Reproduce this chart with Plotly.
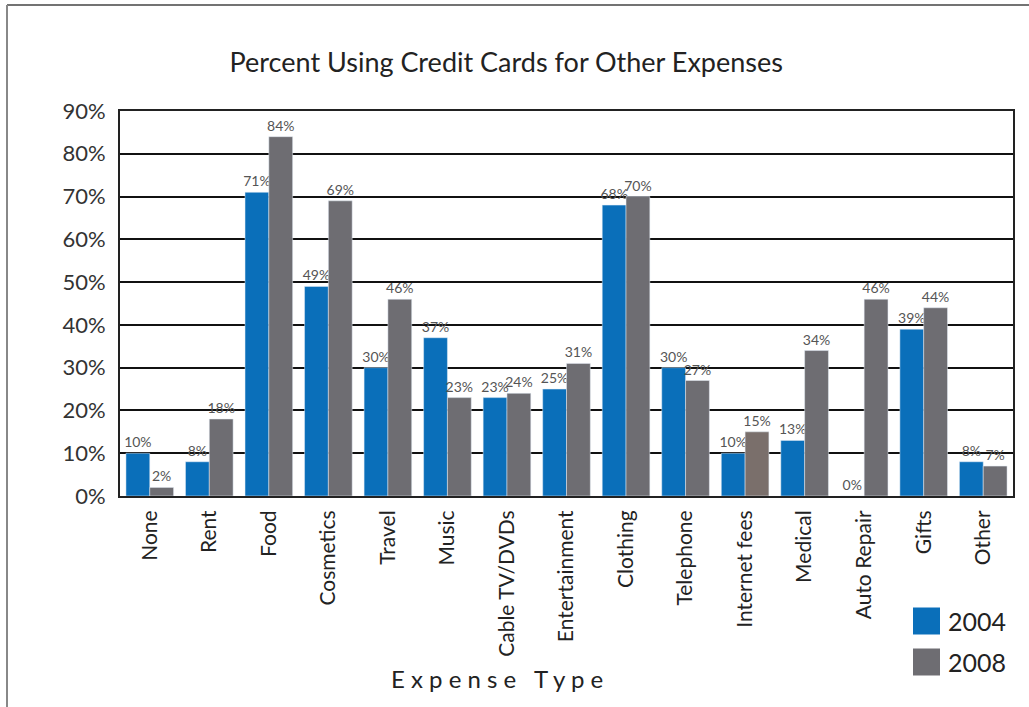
import plotly.graph_objects as go

categories = ["None", "Rent", "Food", "Cosmetics", "Travel", "Music", "Cable TV/DVDs",
              "Entertainment", "Clothing", "Telephone", "Internet fees", "Medical",
              "Auto Repair", "Gifts", "Other"]
values_2004 = [10, 8, 71, 49, 30, 37, 23, 25, 68, 30, 10, 13, 0, 39, 8]
values_2008 = [2, 18, 84, 69, 46, 23, 24, 31, 70, 27, 15, 34, 46, 44, 7]
series_names = ["2004", "2008"]
y_ticks = [0, 10, 20, 30, 40, 50, 60, 70, 80, 90]

BLUE = "#0a6fba"
GRAY = "#6e6d72"
colors_2008 = [GRAY] * len(categories)
colors_2008[categories.index("Internet fees")] = "#7a6f6b"

FONT = "Lato"

fig = go.Figure()
fig.add_trace(go.Bar(
    x=categories, y=values_2004, name=series_names[0], marker_color=BLUE,
    text=[f"{v}%" for v in values_2004], textposition="outside", constraintext="none",
    textfont=dict(size=14, color="#555555", family=FONT), cliponaxis=False,
    showlegend=False))
fig.add_trace(go.Bar(
    x=categories, y=values_2008, name=series_names[1], marker_color=colors_2008,
    text=[f"{v}%" for v in values_2008], textposition="outside", constraintext="none",
    textfont=dict(size=14, color="#555555", family=FONT), cliponaxis=False,
    showlegend=False))

fig.update_layout(
    width=1029, height=707,
    margin=dict(l=120, r=16, t=111, b=211),
    paper_bgcolor="white", plot_bgcolor="white",
    barmode="group", bargap=0.2, bargroupgap=0,
    font=dict(family=FONT, color="#222222"),
    title=dict(text="Percent Using Credit Cards for Other Expenses",
               x=0.492, xanchor="center", y=0.912, yanchor="middle",
               font=dict(size=27, color="#222222", family=FONT)),
)
fig.update_yaxes(range=[0, 90], tickvals=y_ticks, ticktext=[f"{t}%" for t in y_ticks],
                 showgrid=True, gridcolor="#111111", gridwidth=2,
                 showline=True, linecolor="#222222", linewidth=2, mirror=True,
                 ticks="", ticklabelstandoff=8,
                 tickfont=dict(size=22, color="#333333", family=FONT),
                 zeroline=False, fixedrange=True)
fig.update_xaxes(tickangle=-90, tickfont=dict(size=21, color="#222222", family=FONT),
                 showline=True, linecolor="#222222", linewidth=2, mirror=True,
                 ticks="", ticklabelstandoff=4, fixedrange=True)

# Axis title with letter spacing
fig.add_annotation(text="E x p e n s e   T y p e", xref="paper", yref="paper",
                   x=(497 - 120) / 893, y=-(678 - 496) / 385, xanchor="center", yanchor="middle",
                   showarrow=False, font=dict(size=24, color="#222222", family=FONT))

# Legend (manual squares + text)
legend_items = [(series_names[0], BLUE, 621), (series_names[1], GRAY, 662)]
for name, col, yc in legend_items:
    x0p, x1p = (913 - 120) / 893, (940 - 120) / 893
    y0p, y1p = -(yc + 13.5 - 496) / 385, -(yc - 13.5 - 496) / 385
    fig.add_shape(type="rect", xref="paper", yref="paper", x0=x0p, x1=x1p, y0=y0p, y1=y1p,
                  fillcolor=col, line=dict(width=0))
    fig.add_annotation(text=name, xref="paper", yref="paper",
                       x=(946 - 120) / 893, y=-(yc - 496) / 385, xanchor="left", yanchor="middle",
                       showarrow=False, font=dict(size=25, color="#222222", family=FONT))

# Outer page border (top and left)
fig.add_shape(type="line", xref="paper", yref="paper",
              x0=(7 - 120) / 893, x1=(1029 - 120) / 893, y0=(496 - 5) / 385, y1=(496 - 5) / 385,
              line=dict(color="#444444", width=1.5))
fig.add_shape(type="line", xref="paper", yref="paper",
              x0=(7 - 120) / 893, x1=(7 - 120) / 893, y0=(496 - 5) / 385, y1=-(707 - 496) / 385,
              line=dict(color="#888888", width=2))

fig.write_html("out.html")
